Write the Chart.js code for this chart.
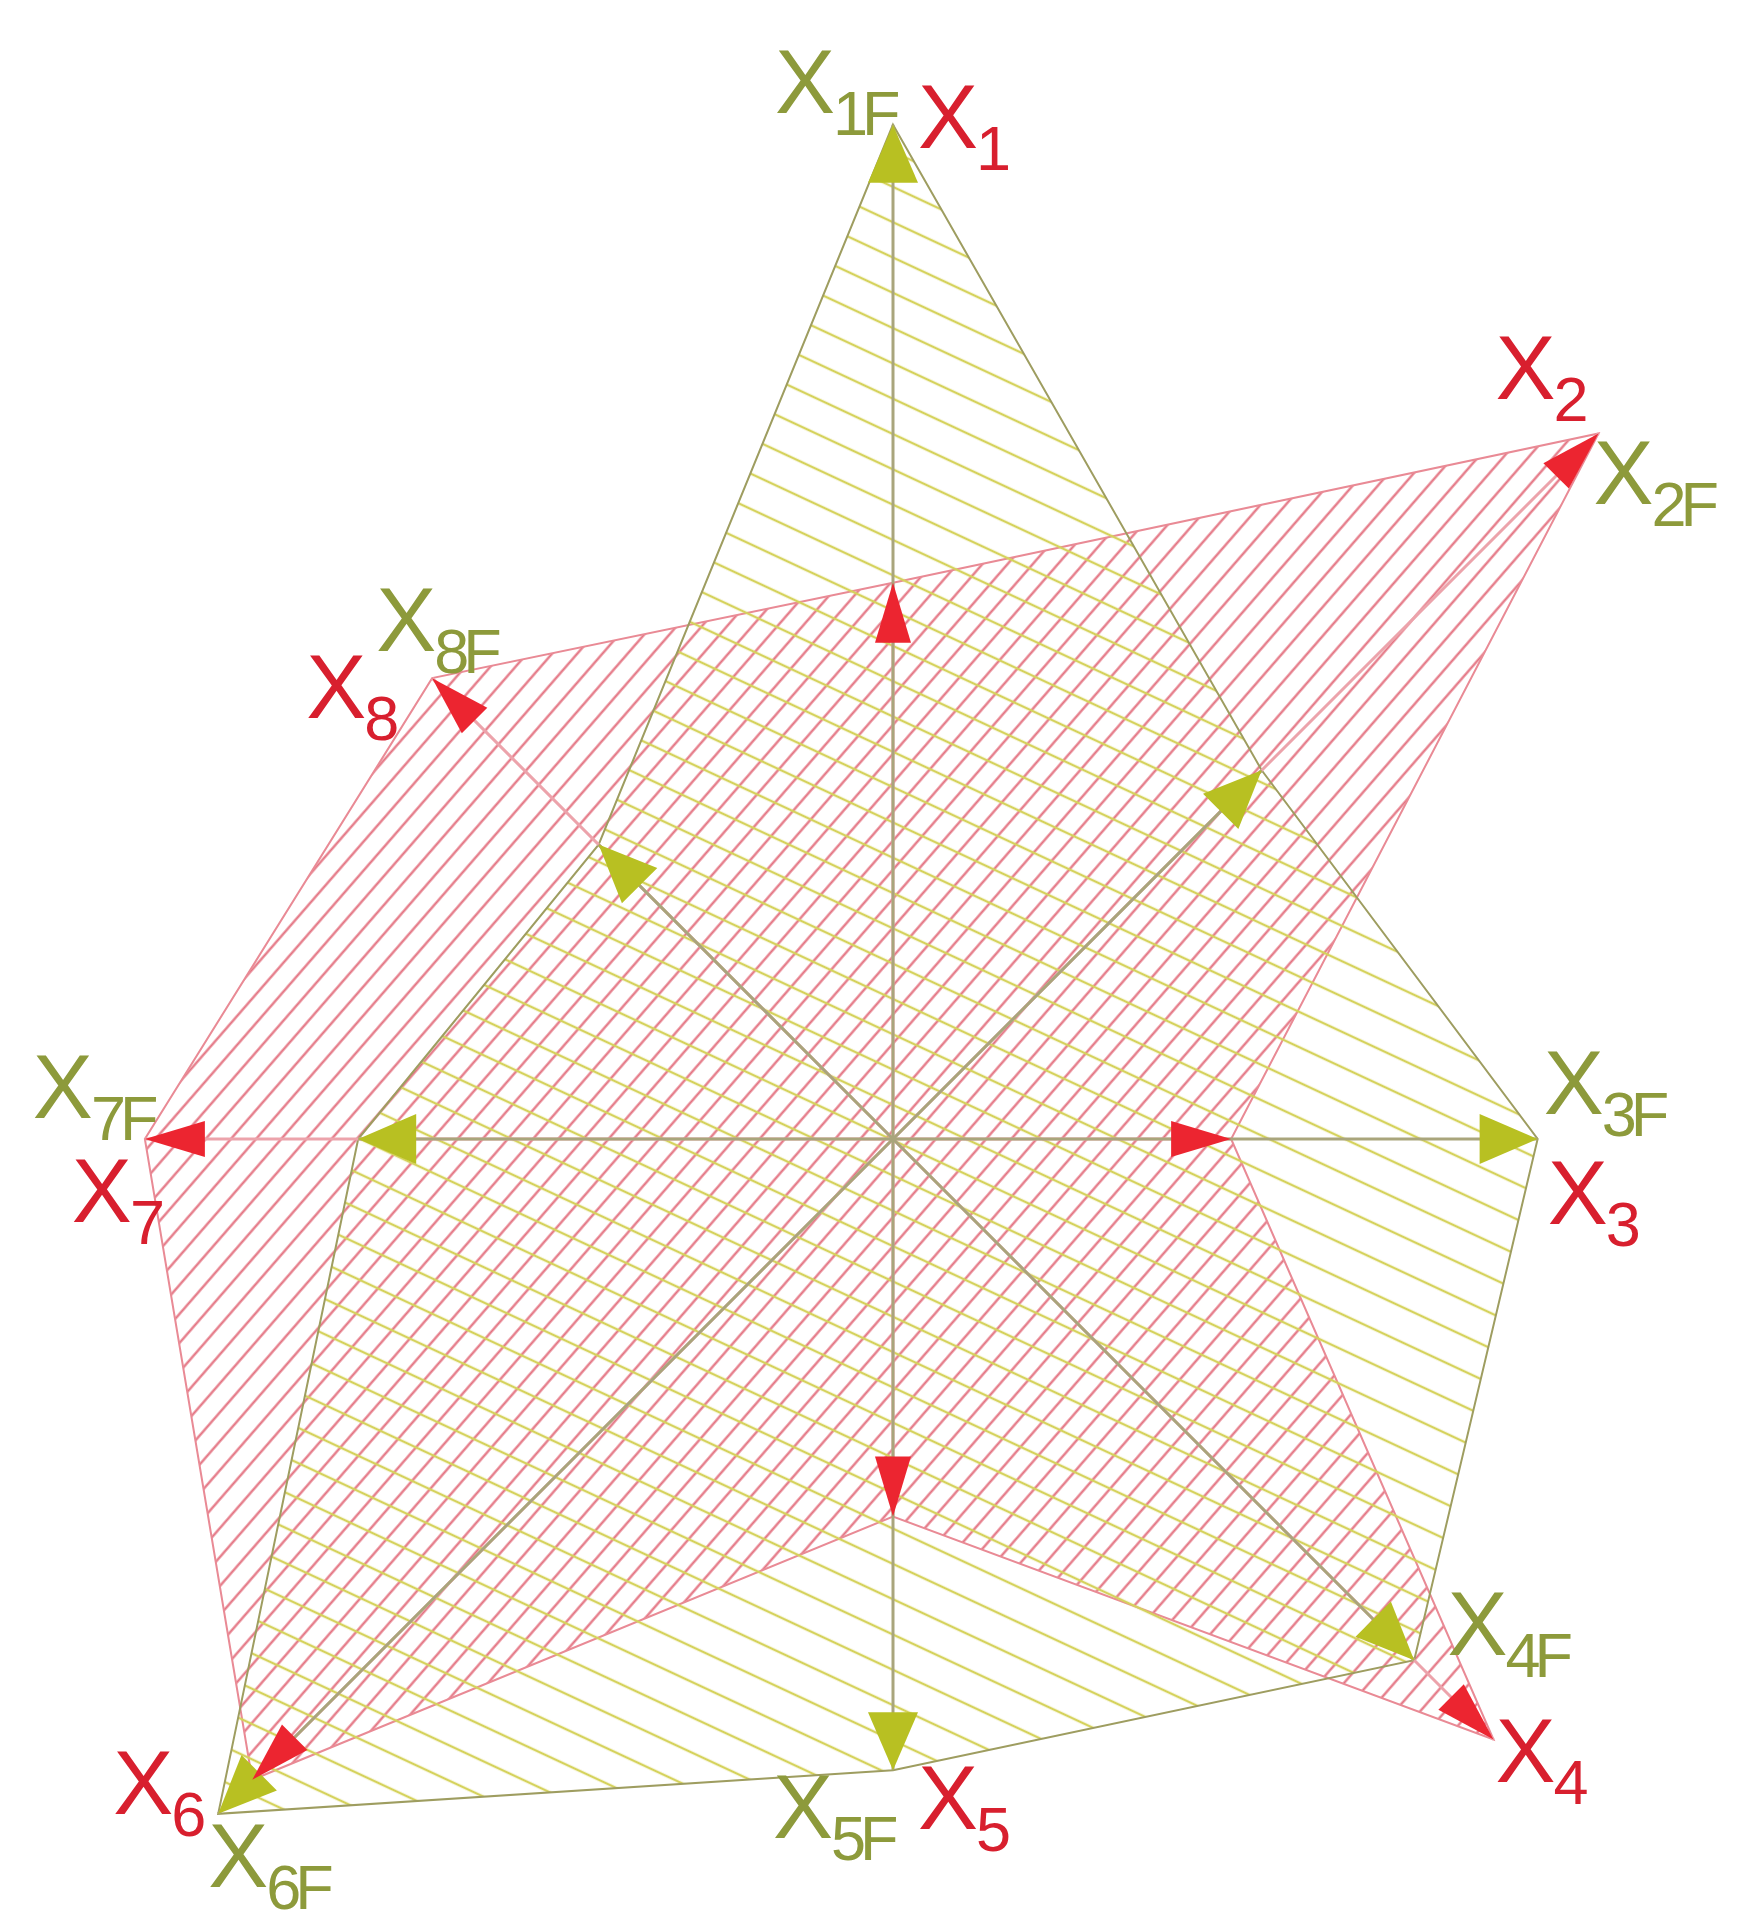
<!DOCTYPE html>
<html>
<head>
<meta charset="utf-8">
<script src="https://cdn.jsdelivr.net/npm/chart.js@4.4.1/dist/chart.umd.min.js"></script>
<style>
  html, body { margin: 0; padding: 0; background: #fff; overflow: hidden; }
  canvas { display: block; }
</style>
</head>
<body>
<!-- taller than the window: the radar centre sits low, and the fill is clipped to the chart area -->
<canvas id="chart" width="1745" height="2278"></canvas>
<script>
// axis numbers, clockwise from the top
const AXES = ["1", "2", "3", "4", "5", "6", "7", "8"];
// red series X
const X_VALUES = [70.4, 126.3, 42.8, 107.5, 47.8, 114.7, 94.7, 82.5];
// olive series XF
const XF_VALUES = [128.4, 66, 81.6, 93.3, 79.9, 120.8, 67.7, 52.7];

const X_SUBS = AXES.slice();
const XF_SUBS = AXES.map(a => a + "F");

// label offsets (px) from the outer arrow tip of each axis
const X_LABEL_OFFSETS = [[25, 23], [-103, -34], [10, 85], [2, 42], [25, 59], [-105, 0], [-73, 83], [-126, 40]];
const XF_LABEL_OFFSETS = [[-118, -12], [-5, 71], [6, -25], [-46, -85], [-120, 68], [-10, 73], [-112, -21], [-56, -27]];

const RED = {
    hatch: "#e3707f",
    border: "#e98a95",
    shaft: "#eca3ab",
    head: "#ec2530",
    text: "#d81f2e"
};
const OLIVE = {
    hatch: "#d5d25c",
    border: "#9e9d60",
    shaft: "#a9a57c",
    head: "#b8c022",
    text: "#8d9a3b"
};

function makeHatch(color, spacing, angle, width) {
    var tile = document.createElement("canvas");
    tile.width = 8;
    tile.height = spacing;
    var tctx = tile.getContext("2d");
    tctx.fillStyle = color;
    tctx.fillRect(0, (spacing - width) / 2, 8, width);
    var pattern = tctx.createPattern(tile, "repeat");
    pattern.setTransform(new DOMMatrix().rotate(angle));
    return pattern;
}

const redHatch = makeHatch(RED.hatch, 19, -49, 2.2);
const oliveHatch = makeHatch(OLIVE.hatch, 32, 25, 2.4);

function drawHead(ctx, c, p, len, wid, color) {
    var dx = p.x - c.x, dy = p.y - c.y;
    var d = Math.sqrt(dx * dx + dy * dy);
    var ux = dx / d, uy = dy / d;
    var bx = p.x - ux * len, by = p.y - uy * len;
    ctx.fillStyle = color;
    ctx.beginPath();
    ctx.moveTo(p.x, p.y);
    ctx.lineTo(bx - uy * wid / 2, by + ux * wid / 2);
    ctx.lineTo(bx + uy * wid / 2, by - ux * wid / 2);
    ctx.closePath();
    ctx.fill();
}

function drawLabel(ctx, x, y, sub, color) {
    ctx.fillStyle = color;
    ctx.textBaseline = "alphabetic";
    ctx.textAlign = "left";
    ctx.letterSpacing = "0px";
    ctx.font = "90px 'Liberation Sans', Arial, sans-serif";
    ctx.fillText("X", x, y);
    var w = ctx.measureText("X").width;
    ctx.font = "63px 'Liberation Sans', Arial, sans-serif";
    ctx.letterSpacing = "-6px";
    ctx.fillText(sub, x + w - 2, y + 22);
    ctx.letterSpacing = "0px";
}

const arrowsPlugin = {
    id: "arrows",
    afterDatasetsDraw(chart) {
        var ctx = chart.ctx;
        var r = chart.scales.r;
        var c = { x: r.xCenter, y: r.yCenter };

        ctx.save();
        ctx.lineCap = "butt";

        // shafts: red first, olive over it
        [[X_VALUES, RED.shaft], [XF_VALUES, OLIVE.shaft]].forEach(([vals, col]) => {
            vals.forEach((v, i) => {
                var p = r.getPointPositionForValue(i, v);
                ctx.strokeStyle = col;
                ctx.lineWidth = 3;
                ctx.beginPath();
                ctx.moveTo(c.x, c.y);
                ctx.lineTo(p.x, p.y);
                ctx.stroke();
            });
        });

        XF_VALUES.forEach((v, i) => {
            drawHead(ctx, c, r.getPointPositionForValue(i, v), 58, 50, OLIVE.head);
        });
        X_VALUES.forEach((v, i) => {
            drawHead(ctx, c, r.getPointPositionForValue(i, v), 60, 36, RED.head);
        });

        AXES.forEach((a, i) => {
            var outer = r.getPointPositionForValue(i, Math.max(X_VALUES[i], XF_VALUES[i]));
            drawLabel(ctx, outer.x + XF_LABEL_OFFSETS[i][0], outer.y + XF_LABEL_OFFSETS[i][1], XF_SUBS[i], OLIVE.text);
            drawLabel(ctx, outer.x + X_LABEL_OFFSETS[i][0], outer.y + X_LABEL_OFFSETS[i][1], X_SUBS[i], RED.text);
        });

        ctx.restore();
    }
};

new Chart(document.getElementById("chart"), {
    type: "radar",
    data: {
        labels: AXES.map(a => "X" + a),
        datasets: [{
            label: "XF",
            data: XF_VALUES,
            backgroundColor: oliveHatch,
            borderColor: OLIVE.border,
            borderWidth: 2,
            fill: true,
            tension: 0,
            pointRadius: 0,
            clip: false
        }, {
            label: "X",
            data: X_VALUES,
            backgroundColor: redHatch,
            borderColor: RED.border,
            borderWidth: 2,
            fill: true,
            tension: 0,
            pointRadius: 0,
            clip: false
        }]
    },
    options: {
        responsive: false,
        animation: false,
        devicePixelRatio: 1,
        layout: { padding: { left: 103, right: 62, top: 0, bottom: 0 } },
        plugins: {
            legend: { display: false },
            tooltip: { enabled: false }
        },
        scales: {
            r: {
                min: 0,
                max: 100,
                grid: { display: false },
                angleLines: { display: false },
                ticks: { display: false },
                pointLabels: { display: false }
            }
        }
    },
    plugins: [arrowsPlugin]
});
</script>
</body>
</html>
